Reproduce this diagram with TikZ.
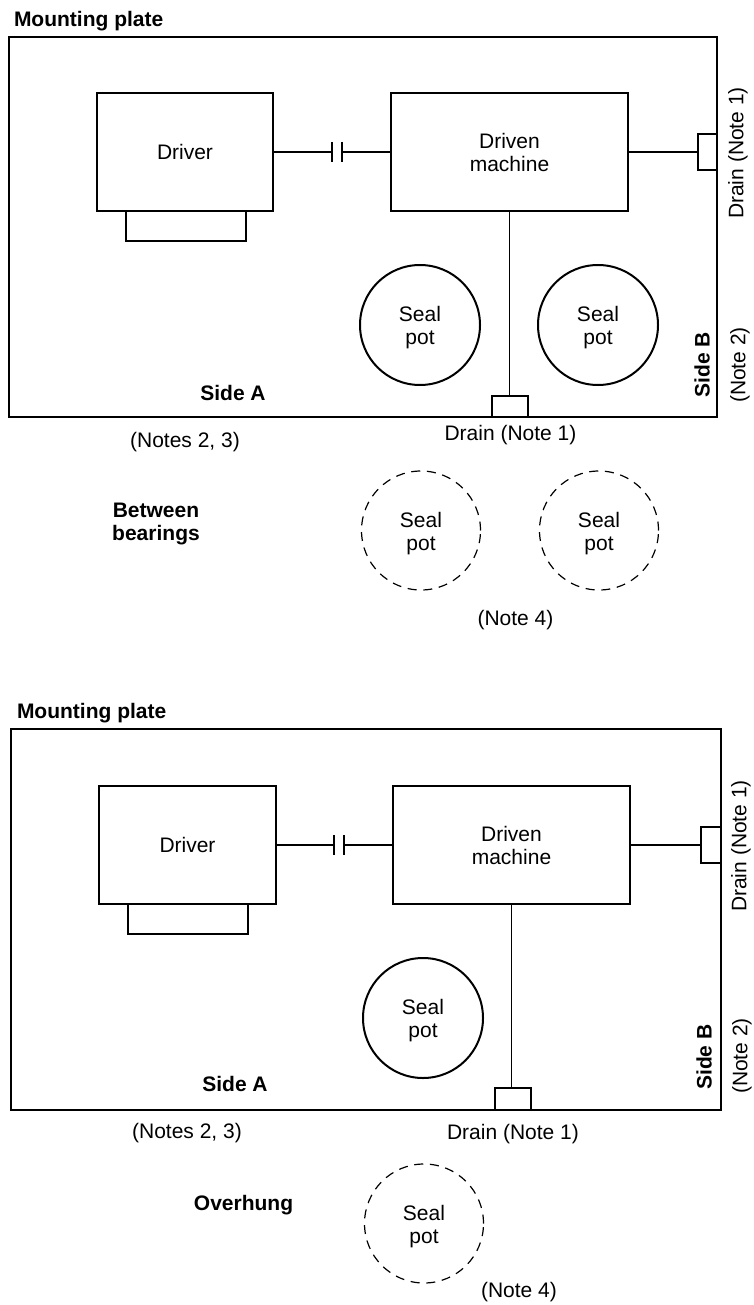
\documentclass[tikz,border=0pt]{standalone}
\usepackage{fontspec}
\setmainfont{Liberation Sans}
\newcommand{\potlabel}{\rule{0pt}{21pt}Seal\\pot}
\begin{document}
\begin{tikzpicture}[x=1pt,y=-1pt,
 every node/.style={font=\fontsize{21}{23}\selectfont,inner sep=0pt,outer sep=0pt,align=center},
 plate/.style={draw,line width=1.3pt,anchor=north west},
 boxpart/.style={draw,line width=1.3pt,anchor=north west},
 potsolid/.style={draw,circle,line width=2pt,minimum size=120pt},
 potdash/.style={draw,circle,dash pattern=on 9pt off 6.7pt,line width=1.2pt,minimum size=119pt},
 heading/.style={font=\fontsize{21}{23}\selectfont\bfseries},
 shaft/.style={line width=1.4pt},
 coupler/.style={line width=1.6pt}]
  \useasboundingbox (0,0) rectangle (754,1305);
  % top arrangement
  \node[heading,anchor=west] (titleA) at (14,21) {Mounting plate};
  \node[plate,minimum width=708pt,minimum height=380pt] (plateA) at (9,37) {};
  \node[boxpart,minimum width=176pt,minimum height=118pt] (driverA) at (97,93) {Driver};
  \node[boxpart,minimum width=120pt,minimum height=30pt] (baseA) at (126,211) {};
  \node[boxpart,minimum width=237pt,minimum height=118pt] (drivenA) at (391,93) {Driven\\machine};
  \node[boxpart,minimum width=19pt,minimum height=36pt] (drainrA) at (698,134) {};
  \node[boxpart,minimum width=36pt,minimum height=21pt] (drainbA) at (492,396) {};
  \coordinate (cplA1) at (332,152);
  \coordinate (cplA2) at (342,152);
  \draw[shaft] (driverA.east) -- (cplA1);
  \draw[coupler] (cplA1) ++(0,-10) -- ++(0,20);
  \draw[coupler] (cplA2) ++(0,-10) -- ++(0,20);
  \draw[shaft] (cplA2) -- (drivenA.west);
  \draw[shaft] (drivenA.east) -- (drainrA.west);
  \draw[shaft] (drivenA.south) -- (drivenA.south|-drainbA.north);
  \node[potsolid] (potA1) at (420,325) {\potlabel};
  \node[potsolid] (potA2) at (598,325) {\potlabel};
  \node[heading] (sideAa) at (233,393) {Side A};
  \node[heading,rotate=90] (sideBa) at (702,365) {Side B};
  \node[rotate=90] (noteBa) at (740,365) {(Note 2)};
  \node[rotate=90] (drainRa) at (738,153) {Drain (Note 1)};
  \node (drainLa) at (510.5,435) {Drain (Note 1)};
  \node (notesA) at (185,442) {(Notes 2, 3)};
  \node[heading] (kindA) at (156,524) {Between\\bearings};
  \node[potdash] (potA3) at (421,530.5) {\potlabel};
  \node[potdash] (potA4) at (599,530.5) {\potlabel};
  \node (note4a) at (515.5,620) {(Note 4)};
  % bottom arrangement
  \node[heading,anchor=west] (titleB) at (17,713) {Mounting plate};
  \node[plate,minimum width=710pt,minimum height=381pt] (plateB) at (11,729) {};
  \node[boxpart,minimum width=177pt,minimum height=118pt] (driverB) at (99,786) {Driver};
  \node[boxpart,minimum width=120pt,minimum height=30pt] (baseB) at (128,904) {};
  \node[boxpart,minimum width=237pt,minimum height=118pt] (drivenB) at (393,786) {Driven\\machine};
  \node[boxpart,minimum width=20pt,minimum height=36pt] (drainrB) at (701,827) {};
  \node[boxpart,minimum width=36pt,minimum height=22pt] (drainbB) at (495,1088) {};
  \coordinate (cplB1) at (334,845);
  \coordinate (cplB2) at (344,845);
  \draw[shaft] (driverB.east) -- (cplB1);
  \draw[coupler] (cplB1) ++(0,-10) -- ++(0,20);
  \draw[coupler] (cplB2) ++(0,-10) -- ++(0,20);
  \draw[coupler] (cplB2) -- (drivenB.west);
  \draw[shaft] (drivenB.east) -- (drainrB.west);
  \draw[shaft] (drivenB.south) -- (drivenB.south|-drainbB.north);
  \node[potsolid] (potB1) at (423,1018) {\potlabel};
  \node[heading] (sideAb) at (235,1084) {Side A};
  \node[heading,rotate=90] (sideBb) at (704,1057) {Side B};
  \node[rotate=90] (noteBb) at (742,1056) {(Note 2)};
  \node[rotate=90] (drainRb) at (741,846) {Drain (Note 1)};
  \node (drainLb) at (513,1134) {Drain (Note 1)};
  \node (notesB) at (187,1133) {(Notes 2, 3)};
  \node[heading] (kindB) at (243.5,1205) {Overhung};
  \node[potdash] (potB2) at (424,1223.5) {\potlabel};
  \node (note4b) at (519,1292) {(Note 4)};
\end{tikzpicture}
\end{document}
